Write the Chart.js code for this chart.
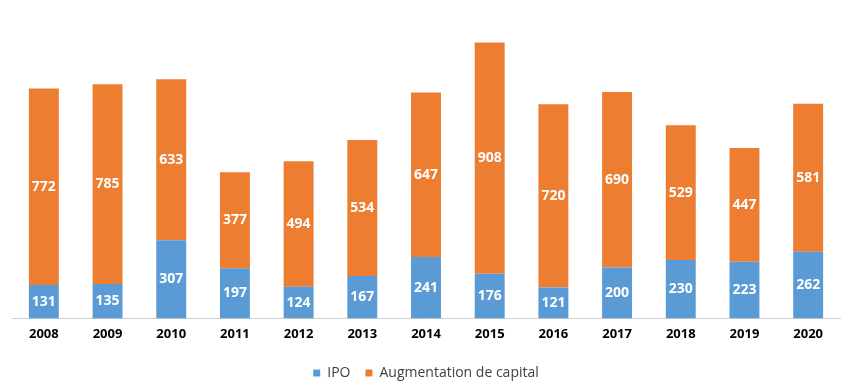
<!DOCTYPE html>
<html>
<head>
<meta charset="utf-8">
<script src="https://cdn.jsdelivr.net/npm/chart.js@4"></script>
<style>
  html, body { margin: 0; padding: 0; background: #fff; }
  #wrap { width: 854px; height: 391px; }
</style>
</head>
<body>
<div id="wrap"><canvas id="chart"></canvas></div>
<script>
const years = ['2008', '2009', '2010', '2011', '2012', '2013', '2014', '2015', '2016', '2017', '2018', '2019', '2020'];
const ipo = [131, 135, 307, 197, 124, 167, 241, 176, 121, 200, 230, 223, 262];
const augmentation = [772, 785, 633, 377, 494, 534, 647, 908, 720, 690, 529, 447, 581];

// valeurs écrites au milieu de chaque barre
const barLabels = {
    id: 'barLabels',
    afterDatasetsDraw(chart) {
        const ctx = chart.ctx;
        ctx.save();
        ctx.fillStyle = '#ffffff';
        ctx.font = 'bold 14px "Open Sans", sans-serif';
        ctx.textAlign = 'center';
        ctx.textBaseline = 'middle';
        chart.data.datasets.forEach((ds, i) => {
            chart.getDatasetMeta(i).data.forEach((bar, j) => {
                const y = (bar.y + bar.base) / 2;
                ctx.fillText(ds.data[j], bar.x, y);
            });
        });
        ctx.restore();
    }
};

new Chart(document.getElementById('chart'), {
    type: 'bar',
    data: {
        labels: years,
        datasets: [
            {
                label: 'IPO',
                data: ipo,
                backgroundColor: '#5B9BD5',
                barPercentage: 0.47,
                categoryPercentage: 1
            },
            {
                label: 'Augmentation de capital',
                data: augmentation,
                backgroundColor: '#ED7D31',
                barPercentage: 0.47,
                categoryPercentage: 1
            }
        ]
    },
    options: {
        responsive: true,
        maintainAspectRatio: false,
        animation: false,
        layout: { padding: { left: 12, right: 14, top: 13, bottom: 1 } },
        scales: {
            x: {
                stacked: true,
                grid: { display: false, drawTicks: false },
                border: { color: '#d0d0d0', width: 1 },
                ticks: {
                    color: '#000',
                    padding: 12,
                    font: { family: '"Open Sans", sans-serif', size: 13, weight: 'bold', lineHeight: 0.66 }
                }
            },
            y: {
                stacked: true,
                display: false,
                min: 0,
                max: 1200
            }
        },
        plugins: {
            legend: {
                position: 'bottom',
                labels: {
                    boxWidth: 7,
                    boxHeight: 7,
                    padding: 15,
                    color: '#404040',
                    font: { family: '"Open Sans", sans-serif', size: 14 }
                }
            },
            tooltip: { enabled: false }
        }
    },
    plugins: [barLabels]
});
</script>
</body>
</html>
